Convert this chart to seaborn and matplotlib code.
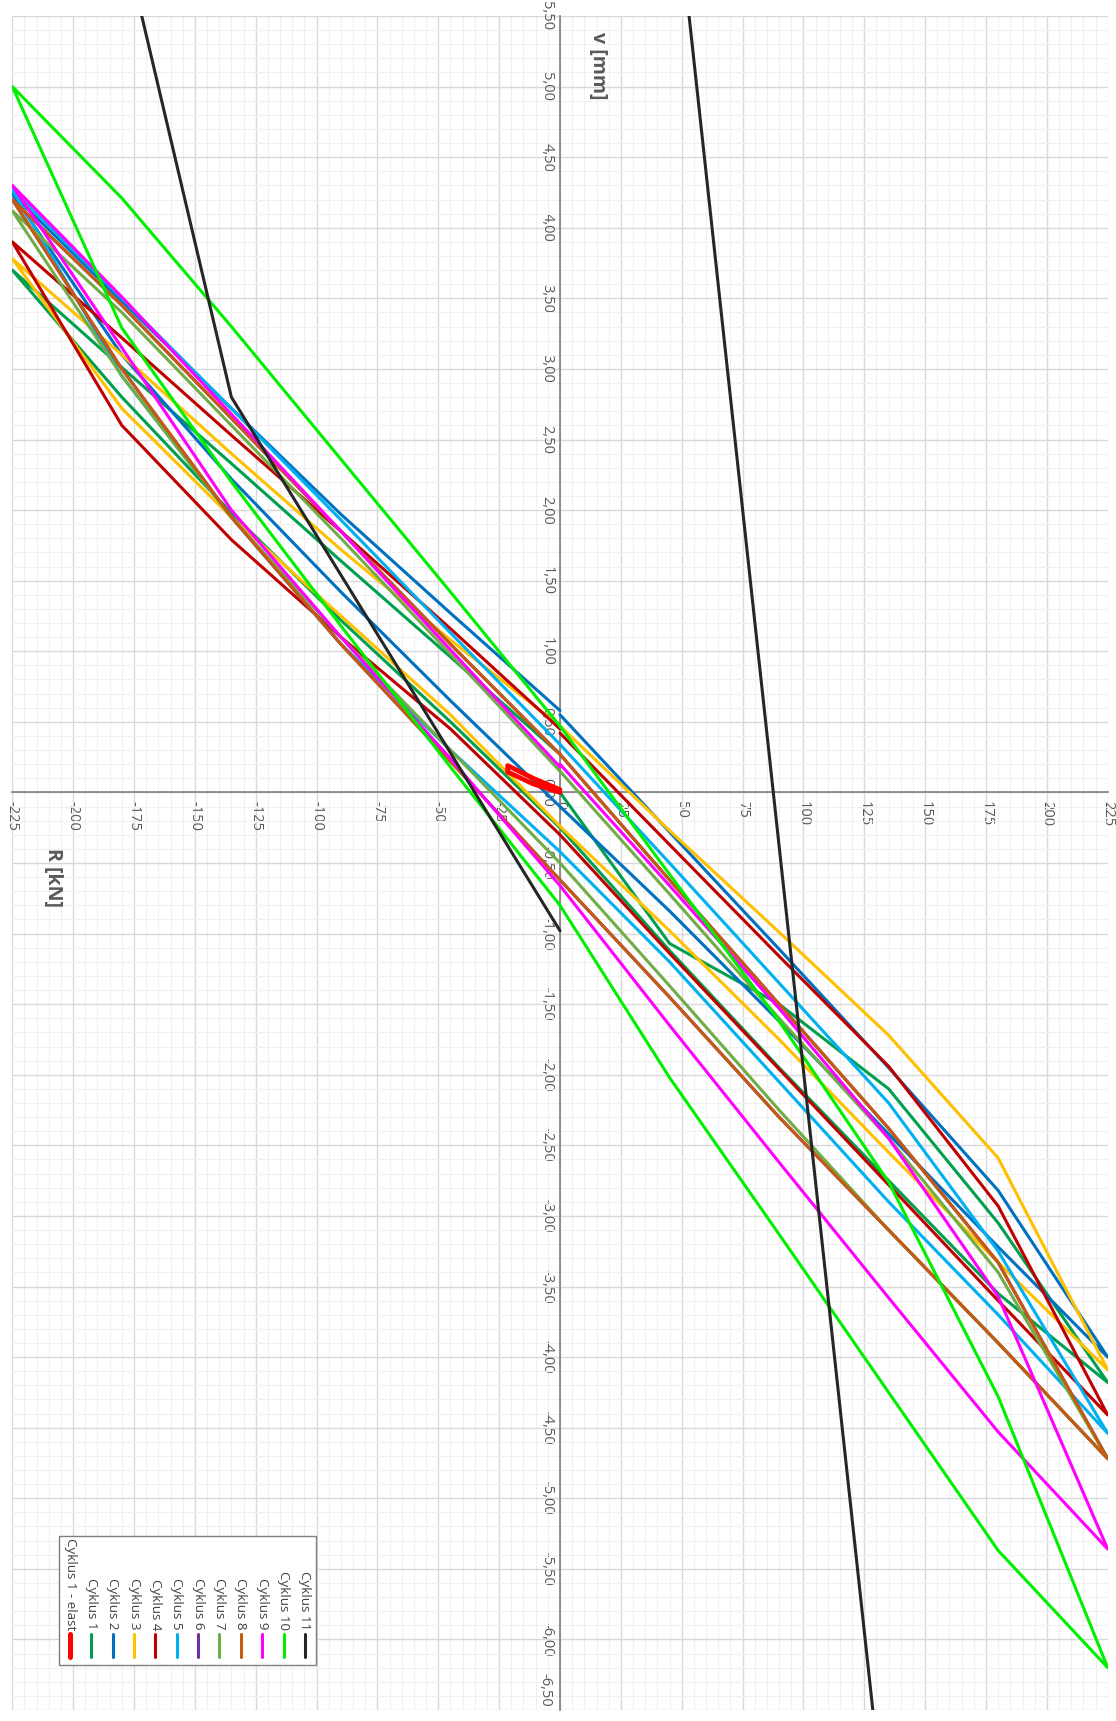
import matplotlib
matplotlib.use("Agg")
import matplotlib.pyplot as plt
import seaborn as sns
import pandas as pd
from matplotlib.ticker import MultipleLocator, FuncFormatter
from matplotlib.lines import Line2D
from matplotlib.patches import Rectangle

sns.set_theme(style="white")
plt.rcParams['font.family'] = ['Open Sans', 'DejaVu Sans']

# load steps of one full cycle (kN)
R_LOOP = [0, 45, 90, 135, 180, 225, 180, 135, 90, 45, 0,
          -45, -90, -135, -180, -225, -180, -135, -90, -45, 0]

# elastic cycle
R_ELAST = [0, -11, -21.5, -21.5, -11, 0]
V_ELAST = [0.00, 0.06, 0.145, 0.19, 0.10, 0.02]

# deflection v (mm) at each load step of R_LOOP
V_C1 = [0.00, -1.07, -1.50, -2.10, -3.05, -4.18, -3.55, -2.75, -1.95, -1.12, -0.25,
        0.50, 1.22, 1.98, 2.80, 3.70, 3.01, 2.33, 1.64, 0.96, 0.27]
V_C2 = [0.55, -0.28, -1.11, -1.95, -2.82, -4.00, -3.22, -2.42, -1.62, -0.84, -0.10,
        0.65, 1.42, 2.22, 3.10, 4.24, 3.48, 2.72, 1.97, 1.27, 0.58]
V_C3 = [0.47, -0.27, -0.99, -1.72, -2.59, -4.09, -3.33, -2.55, -1.75, -0.98, -0.24,
        0.55, 1.25, 1.95, 2.72, 3.78, 3.10, 2.40, 1.72, 1.08, 0.47]
V_C4 = [0.42, -0.37, -1.16, -1.94, -2.93, -4.41, -3.60, -2.78, -1.96, -1.14, -0.30,
        0.45, 1.10, 1.79, 2.60, 3.90, 3.22, 2.53, 1.85, 1.16, 0.45]
V_C5 = [0.34, -0.50, -1.35, -2.20, -3.25, -4.54, -3.70, -2.90, -2.05, -1.20, -0.42,
        0.30, 1.05, 1.95, 2.95, 4.27, 3.50, 2.72, 1.93, 1.13, 0.34]
V_C6 = [0.27, -0.62, -1.50, -2.38, -3.33, -4.72, -3.90, -3.10, -2.30, -1.45, -0.62,
        0.22, 1.05, 1.95, 3.00, 4.20, 3.45, 2.65, 1.85, 1.05, 0.27]
V_C7 = [0.15, -0.72, -1.60, -2.45, -3.40, -4.72, -3.90, -3.10, -2.25, -1.37, -0.50,
        0.30, 1.10, 1.95, 2.95, 4.12, 3.40, 2.60, 1.80, 0.98, 0.15]
V_C8 = [0.27, -0.62, -1.50, -2.38, -3.33, -4.72, -3.90, -3.10, -2.30, -1.45, -0.62,
        0.22, 1.05, 1.95, 3.00, 4.20, 3.45, 2.65, 1.85, 1.05, 0.27]
V_C9 = [0.20, -0.66, -1.53, -2.45, -3.57, -5.36, -4.53, -3.58, -2.62, -1.65, -0.66,
        0.24, 1.10, 2.00, 3.15, 4.30, 3.51, 2.68, 1.85, 1.01, 0.18]
V_C10 = [0.47, -0.58, -1.62, -2.76, -4.28, -6.20, -5.37, -4.25, -3.13, -2.02, -0.80,
         0.18, 1.18, 2.20, 3.29, 5.00, 4.21, 3.30, 2.36, 1.42, 0.47]

# last cycle (failure) - only a few recorded steps
R_C11 = [0, -135, -225, 0, 225]
V_C11 = [-0.98, 2.80, 9.40, 13.93, -21.84]

LABELS = ["Cyklus 1 - elast", "Cyklus 1", "Cyklus 2", "Cyklus 3", "Cyklus 4",
          "Cyklus 5", "Cyklus 6", "Cyklus 7", "Cyklus 8", "Cyklus 9",
          "Cyklus 10", "Cyklus 11"]
COLORS = ["#FF0000", "#00A04E", "#0070C0", "#FFC000", "#C00000", "#00B0F0",
          "#7030A0", "#70AD47", "#C55A11", "#FF00FF", "#00F000", "#262626"]

series = [(R_ELAST, V_ELAST)] + [(R_LOOP, v) for v in
          (V_C1, V_C2, V_C3, V_C4, V_C5, V_C6, V_C7, V_C8, V_C9, V_C10)] + [(R_C11, V_C11)]

W, H = 1116, 1721
fig = plt.figure(figsize=(W / 100, H / 100), dpi=100)
ax = fig.add_axes([12.3 / W, 1 - 1710 / H, (1107.7 - 12.3) / W, (1710 - 16) / H])

draw_order = list(range(1, 12)) + [0]
for i in draw_order:
    r, v = series[i]
    df = pd.DataFrame({"R": r, "v": v})
    lw = 3.4 if i == 0 else 2.2
    sns.lineplot(data=df, x="R", y="v", sort=False, estimator=None, color=COLORS[i],
                 lw=lw, ax=ax, zorder=3 + i if i else 20, solid_joinstyle="round")

V_MIN, V_MAX = -6.5, 5.5
ax.set_xlim(-225, 225)
ax.set_ylim(V_MIN, V_MAX)
ax.set_xlabel("")
ax.set_ylabel("")


def fmt_v(y, p):
    if abs(y - V_MIN) < 1e-9:
        return ""  # drawn separately so it stays inside the figure
    return f"{y:.2f}".replace(".", ",").replace("-0,00", "0,00")


ax.xaxis.set_major_locator(MultipleLocator(25))
ax.xaxis.set_minor_locator(MultipleLocator(5))
ax.yaxis.set_major_locator(MultipleLocator(0.5))
ax.yaxis.set_minor_locator(MultipleLocator(0.1))
ax.xaxis.set_major_formatter(FuncFormatter(lambda x, p: f"{x:.0f}"))
ax.yaxis.set_major_formatter(FuncFormatter(fmt_v))

ax.grid(which="major", color="#d9d9d9", lw=1.0)
ax.grid(which="minor", color="#f0f0f0", lw=0.8)
ax.set_axisbelow(True)

for side in ("top", "right"):
    ax.spines[side].set_visible(False)
ax.spines["left"].set_position(("data", 0))
ax.spines["bottom"].set_position(("data", 0))
for side in ("left", "bottom"):
    ax.spines[side].set_color("#7f7f7f")
    ax.spines[side].set_linewidth(1.2)
    ax.spines[side].set_zorder(2)

ax.tick_params(which="both", length=0)
ax.tick_params(axis="x", labelsize=10.5, labelcolor="#595959", pad=6, labelrotation=-90)
ax.tick_params(axis="y", labelsize=10.5, labelcolor="#595959", pad=4, labelrotation=-90)
for lbl in ax.get_yticklabels():
    lbl.set_va("center")

ax.annotate(f"{V_MIN:.2f}".replace(".", ","), xy=(0, V_MIN), xytext=(-5.2, 2),
            textcoords="offset points", rotation=-90, ha="right", va="bottom",
            fontsize=10.5, color="#595959", annotation_clip=False)

ax.text(15.6, 5.15, "v [mm]", rotation=-90, ha="center", va="center",
        fontsize=14, fontweight="bold", color="#595959")
ax.text(-208.4, -0.60, "R [kN]", rotation=-90, ha="center", va="center",
        fontsize=14, fontweight="bold", color="#595959")

# legend box drawn in figure pixels
x0, x1, y0, y1 = 59.3, 315.7, 1536, 1665
fig.add_artist(Rectangle((x0 / W, 1 - y1 / H), (x1 - x0) / W, (y1 - y0) / H,
                         transform=fig.transFigure, facecolor="white",
                         edgecolor="#7f7f7f", lw=1.0, zorder=30))
for k, (lab, col) in enumerate(zip(LABELS, COLORS)):
    xp = 70 + k * 21.35
    fig.add_artist(Line2D([xp / W, xp / W], [1 - 1657 / H, 1 - 1634 / H],
                          transform=fig.transFigure, color=col,
                          lw=3.6 if k == 0 else 2.2, solid_capstyle="round", zorder=31))
    fig.text(xp / W, 1 - 1630 / H, lab, rotation=-90, ha="center", va="bottom",
             fontsize=9.6, color="#404040", zorder=31)

fig.savefig("out.png", dpi=100)
